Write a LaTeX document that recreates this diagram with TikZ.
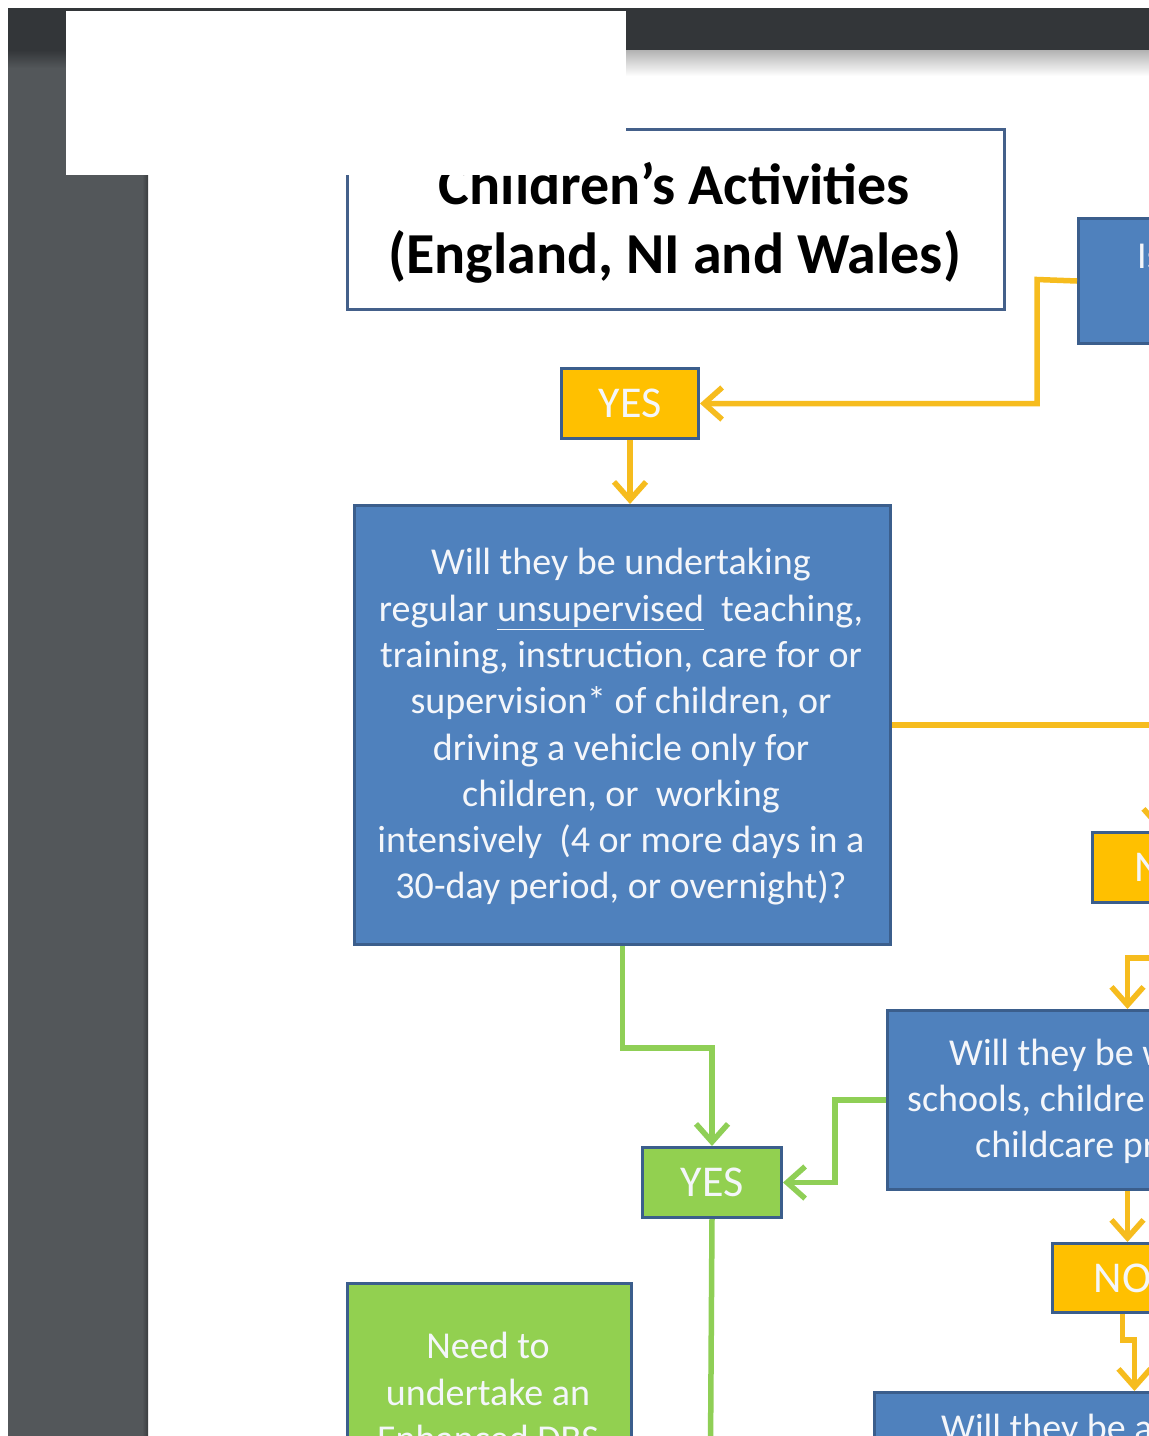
\documentclass[tikz,border=0pt]{standalone}
\usepackage{fontspec}
\setmainfont{Carlito}
\usetikzlibrary{arrows.meta}
\definecolor{qblue}{HTML}{4F81BD}
\definecolor{qborder}{HTML}{3B5E8C}
\definecolor{qyellow}{HTML}{FFC000}
\definecolor{qyline}{HTML}{F6BC1E}
\definecolor{qgreen}{HTML}{92D050}
\definecolor{qgline}{HTML}{8FCF56}
\definecolor{qtitle}{HTML}{44608A}
\definecolor{qdark}{HTML}{333639}
\definecolor{qside}{HTML}{53575A}
\definecolor{qtext}{HTML}{F4F6FA}
\begin{document}
\begin{tikzpicture}[x=1pt,y=-1pt,
  box/.style={draw=qborder, line width=3pt, anchor=north west, inner sep=0pt},
  bluebox/.style={box, fill=qblue},
  ybox/.style={box, fill=qyellow},
  gbox/.style={box, fill=qgreen},
  qtxt/.style={text=qtext, font=\fontsize{38}{46.3}\selectfont, align=center, inner sep=0pt},
  qline/.style={text=qtext, font=\fontsize{38}{46.3}\selectfont, inner sep=0pt, anchor=base west},
  ans/.style={text=qtext, font=\fontsize{44}{50}\selectfont},
  yconn/.style={draw=qyline, line width=5.5pt, -{Straight Barb[length=18pt,width=32pt]}},
  gconn/.style={draw=qgline, line width=5.5pt, -{Straight Barb[length=18pt,width=32pt]}},
  gplain/.style={draw=qgline, line width=5.5pt}
]
\useasboundingbox (0,0) rectangle (1149,1436);
\clip (0,0) rectangle (1149,1436);
% background frame
\fill[white] (0,0) rectangle (1149,1436);
\fill[qside] (8,8) rectangle (148,1436);
\fill[qdark] (8,8) rectangle (1149,50);
\shade[top color=qdark, bottom color=qside] (8,50) rectangle (148,68);
\shade[top color=black!30, bottom color=white] (148,50) rectangle (1149,76);
\shade[left color=qside, right color=qside!70!black] (142,50) rectangle (148,1436);

% title
\node[draw=qtitle, line width=3pt, anchor=north west, minimum width=657, minimum height=180, inner sep=0pt] (titlebox) at (346,128) {};
\node[font=\bfseries\fontsize{58}{69}\selectfont, align=center, inner sep=0pt] (title) at (674.5,223) {Children’s Activities\\(England, NI and Wales)};
\fill[white] (66,11) rectangle (626,175);

% boxes
\node[bluebox, minimum width=300, minimum height=125] (isbox) at (1077,217) {};
\node[qline] (istxt) at (1137,268) {Is};

\node[ybox, minimum width=137, minimum height=70] (yes1) at (560,367) {};
\node[ans] (yes1t) at (yes1.center) {YES};

\node[bluebox, minimum width=536, minimum height=439] (q1) at (353,504) {};
\node[qtxt] (q1t) at (621,727) {Will they be undertaking\\
regular \underline{unsupervised}\ \ teaching,\\
training, instruction, care for or\\
supervision* of children, or\\
driving a vehicle only for\\
children, or\ \ working\\
intensively\ \ (4 or more days in a\\
30-day period, or overnight)?};

\node[ybox, minimum width=134, minimum height=70] (nbox) at (1091,831) {};
\node[ans, anchor=base west, inner sep=0pt] (nt) at (1134,881) {N};

\node[bluebox, minimum width=480, minimum height=179] (q2) at (886,1009) {};
\node[qline] (q2a) at (949,1065) {Will they be w};
\node[qline] (q2b) at (907,1111) {schools, childre};
\node[qline] (q2c) at (975,1157) {childcare pr};

\node[gbox, minimum width=139, minimum height=70] (yes2) at (641,1146) {};
\node[ans] (yes2t) at (yes2.center) {YES};

\node[ybox, minimum width=140, minimum height=69] (no) at (1051,1242) {};
\node[ans] (not) at (no.center) {NO};

\node[gbox, minimum width=284, minimum height=250] (need) at (346,1282) {};
\node[qtxt] (needt) at (488,1392) {Need to\\undertake an\\Enhanced DBS};

\node[bluebox, minimum width=520, minimum height=200] (q3) at (873,1391) {};
\node[qline] (q3t) at (941,1440) {Will they be a};

\coordinate (gend) at (710.5,1450);

% connectors
\draw[yconn] (isbox.west) -- (1037,279.5) |- (yes1.east);
\draw[yconn] (yes1.south) -- (yes1.south |- q1.north);
\draw[yconn] (q1.east) -| (nbox.north);
\draw[yconn] (nbox.south) -- ++(0,54) -| (q2.north);
\draw[yconn] (q2.south) -- (q2.south |- no.north);
\draw[yconn] (no.south) -- ++(0,26) -| (q3.north);
\draw[gconn] (q1.south) -- ++(0,102) -| (yes2.north);
\draw[gconn] (q2.west) -- ++(-51,0) |- (yes2.east);
\draw[gplain] (yes2.south) -- (gend);
\end{tikzpicture}
\end{document}
